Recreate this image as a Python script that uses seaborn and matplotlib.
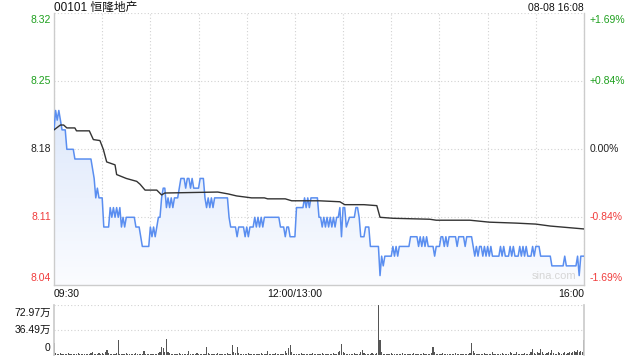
import numpy as np
import pandas as pd
import matplotlib
matplotlib.use("Agg")
import matplotlib.pyplot as plt
import seaborn as sns
from matplotlib.patches import Polygon
from matplotlib.colors import LinearSegmentedColormap

# ---------------- data ----------------
title = "00101 恒隆地产"
stamp = "08-08 16:08"
price_ticks = [8.04, 8.11, 8.18, 8.25, 8.32]
price_labels = ["8.04", "8.11", "8.18", "8.25", "8.32"]
pct_labels = ["-1.69%", "-0.84%", "0.00%", "+0.84%", "+1.69%"]
vol_ticks = [0, 36.49, 72.97]
vol_labels = ["0", "36.49万", "72.97万"]
time_labels = ["09:30", "12:00/13:00", "16:00"]

# minutes since 09:30 (lunch break removed) and price
price_min = [0, 1, 2, 3, 4, 5, 7, 8, 12, 13, 23, 25, 26, 27, 28, 30, 31, 34, 35, 36,
             37, 38, 39, 40, 41, 42, 43, 44, 45, 50, 51, 53, 54, 55, 59, 60, 61, 62, 63, 64,
             65, 66, 67, 68, 69, 70, 71, 72, 73, 74, 75, 77, 78, 79, 81, 82, 83, 84, 85, 86,
             87, 90, 91, 93, 94, 95, 96, 97, 98, 99, 100, 108, 109, 110, 113, 114, 115, 118, 119, 120,
             121, 122, 124, 125, 126, 127, 128, 129, 130, 131, 134, 140, 141, 143, 144, 145, 146, 147, 150, 151,
             155, 156, 157, 158, 159, 160, 164, 165, 166, 167, 168, 169, 170, 171, 172, 173, 174, 175, 176, 177,
             178, 179, 180, 181, 182, 184, 187, 188, 189, 190, 191, 193, 194, 196, 197, 202, 203, 204, 205, 206,
             210, 211, 212, 213, 214, 215, 221, 222, 226, 227, 228, 229, 230, 231, 232, 233, 236, 237, 238, 240,
             241, 242, 243, 244, 245, 246, 250, 251, 252, 255, 256, 257, 260, 262, 263, 264, 265, 266, 267, 268,
             269, 270, 271, 272, 273, 277, 278, 279, 280, 281, 283, 284, 285, 286, 287, 289, 290, 291, 292, 293,
             294, 295, 297, 298, 299, 300, 302, 303, 309, 310, 317, 318, 319, 325, 326, 327, 328, 330]
price_val = [8.20, 8.22, 8.21, 8.22, 8.21, 8.20, 8.20, 8.18, 8.18, 8.17, 8.17, 8.15, 8.13, 8.14, 8.13, 8.13, 8.10, 8.10, 8.12, 8.11,
             8.12, 8.11, 8.12, 8.11, 8.12, 8.10, 8.11, 8.10, 8.11, 8.11, 8.10, 8.10, 8.09, 8.08, 8.08, 8.10, 8.09, 8.10, 8.09, 8.10,
             8.11, 8.11, 8.13, 8.14, 8.14, 8.12, 8.13, 8.12, 8.13, 8.12, 8.13, 8.13, 8.14, 8.15, 8.15, 8.14, 8.15, 8.15, 8.14, 8.15,
             8.14, 8.14, 8.15, 8.15, 8.13, 8.12, 8.13, 8.12, 8.13, 8.12, 8.13, 8.13, 8.11, 8.10, 8.10, 8.09, 8.10, 8.10, 8.09, 8.10,
             8.09, 8.10, 8.10, 8.11, 8.10, 8.11, 8.10, 8.11, 8.10, 8.11, 8.11, 8.11, 8.10, 8.10, 8.09, 8.10, 8.10, 8.09, 8.09, 8.12,
             8.12, 8.13, 8.12, 8.13, 8.12, 8.13, 8.13, 8.11, 8.11, 8.10, 8.11, 8.10, 8.11, 8.10, 8.11, 8.10, 8.11, 8.10, 8.11, 8.11,
             8.12, 8.09, 8.12, 8.12, 8.10, 8.11, 8.11, 8.12, 8.12, 8.11, 8.09, 8.09, 8.10, 8.10, 8.08, 8.08, 8.05, 8.07, 8.06, 8.07,
             8.07, 8.08, 8.07, 8.08, 8.07, 8.08, 8.08, 8.09, 8.09, 8.08, 8.09, 8.08, 8.09, 8.08, 8.09, 8.08, 8.08, 8.07, 8.08, 8.08,
             8.09, 8.09, 8.08, 8.09, 8.08, 8.09, 8.09, 8.08, 8.09, 8.09, 8.08, 8.09, 8.09, 8.07, 8.08, 8.07, 8.08, 8.08, 8.07, 8.08,
             8.07, 8.08, 8.07, 8.08, 8.07, 8.07, 8.08, 8.07, 8.08, 8.07, 8.07, 8.08, 8.07, 8.08, 8.07, 8.07, 8.08, 8.07, 8.08, 8.07,
             8.08, 8.07, 8.07, 8.08, 8.07, 8.08, 8.08, 8.07, 8.07, 8.06, 8.06, 8.07, 8.06, 8.06, 8.07, 8.05, 8.07, 8.07]

avg_min = [0, 4, 6, 8, 13, 14, 22, 24.5, 28.6, 30.7, 32.8, 38, 39, 45, 51.5, 53.6, 56.7, 64, 67, 69,
           102, 108.6, 113.7, 123, 131, 133, 144, 148, 165, 178, 181, 193, 201, 203, 211, 234, 238, 259, 271, 288,
           300, 309, 330]
avg_val = [8.200, 8.205, 8.205, 8.202, 8.202, 8.199, 8.199, 8.190, 8.189, 8.180, 8.167, 8.164, 8.154, 8.150, 8.147, 8.144, 8.138, 8.138, 8.133, 8.135,
           8.136, 8.134, 8.132, 8.130, 8.130, 8.129, 8.129, 8.127, 8.127, 8.126, 8.123, 8.123, 8.122, 8.110, 8.109, 8.108, 8.107, 8.107, 8.105, 8.104,
           8.103, 8.101, 8.098]

# volume per minute, in 万 shares
volume = [17, 3, 2, 2, 3, 2, 1, 2, 2, 3, 2, 1, 2, 2, 1, 3, 2, 2, 1, 2,
          2, 1, 2, 3, 5, 2, 2, 1, 3, 2, 3, 2, 4, 7, 3, 2, 2, 1, 2, 3,
          22, 2, 2, 1, 2, 3, 2, 2, 1, 2, 2, 3, 2, 1, 2, 2, 6, 2, 2, 1,
          2, 2, 1, 2, 2, 3, 4, 12, 10, 4, 23, 5, 3, 2, 2, 1, 2, 2, 3, 2,
          2, 1, 2, 2, 6, 2, 2, 1, 2, 3, 2, 2, 1, 2, 2, 12, 3, 2, 2, 1,
          2, 2, 3, 1, 2, 2, 2, 1, 3, 2, 2, 14, 4, 3, 12, 3, 2, 2, 1, 2,
          2, 3, 2, 1, 2, 2, 1, 2, 2, 3, 2, 1, 2, 6, 2, 2, 1, 2, 3, 2,
          2, 1, 2, 2, 6, 3, 10, 14, 4, 2, 2, 1, 2, 2, 3, 2, 1, 2, 2, 1,
          2, 3, 2, 2, 1, 2, 2, 3, 2, 1, 2, 2, 2, 1, 3, 2, 2, 4, 6, 16,
          5, 3, 2, 2, 1, 2, 2, 3, 2, 1, 2, 4, 7, 3, 2, 2, 1, 2, 3, 2,
          2, 3, 72.97, 22, 4, 2, 2, 1, 2, 2, 3, 2, 1, 2, 2, 2, 1, 3, 2, 2,
          2, 1, 2, 2, 3, 2, 1, 2, 2, 2, 3, 2, 1, 2, 2, 3, 11, 4, 2, 2,
          1, 2, 3, 2, 2, 1, 2, 2, 2, 1, 3, 2, 2, 1, 2, 2, 2, 1, 2, 3,
          17, 6, 3, 2, 2, 1, 2, 2, 3, 2, 1, 2, 2, 5, 2, 2, 1, 2, 2, 3,
          2, 2, 1, 2, 5, 3, 2, 2, 4, 2, 1, 2, 2, 3, 2, 1, 2, 4, 9, 3,
          2, 4, 3, 9, 4, 2, 2, 3, 5, 3, 8, 3, 2, 2, 4, 3, 2, 3, 4, 2,
          3, 4, 3, 5, 6, 4, 7, 5, 6, 4, 22]

# ---------------- style ----------------
sns.set_theme(style="white")
plt.rcParams["font.family"] = ["Liberation Sans", "Noto Sans CJK SC", "DejaVu Sans"]

GREEN = "#1ea01e"
RED = "#f03c3c"
DARK = "#222222"
GRID = "#d2d2d2"
BLUE = "#5a8ef0"

fig = plt.figure(figsize=(6.4, 3.6), dpi=100)
AX_H = 272
ax = fig.add_axes([54 / 640, 1 - 285.3 / 360, 530 / 640, AX_H / 360])
axv = fig.add_axes([54 / 640, 1 - 355 / 360, 530 / 640, 50 / 360])

XMAX = 330
ax.set_xlim(0, XMAX)
ax.set_ylim(price_ticks[0], price_ticks[-1])

pdf = pd.DataFrame({"t": price_min, "p": price_val})
adf = pd.DataFrame({"t": avg_min, "p": avg_val})

# gradient fill under price line
verts = list(zip(price_min, price_val)) + [(price_min[-1], price_ticks[0]), (price_min[0], price_ticks[0])]
poly = Polygon(verts, closed=True, facecolor="none", edgecolor="none")
ax.add_patch(poly)
cmap = LinearSegmentedColormap.from_list("g", ["#fbfcff", "#dde8fb"])
grad = np.linspace(0, 1, 256).reshape(-1, 1)
img = ax.imshow(grad, extent=[0, XMAX, price_ticks[0], max(price_val)], origin="lower",
                aspect="auto", cmap=cmap, zorder=1)
img.set_clip_path(poly)

sns.lineplot(data=pdf, x="t", y="p", ax=ax, color=BLUE, linewidth=1.1, zorder=3, estimator=None, sort=False)
sns.lineplot(data=adf, x="t", y="p", ax=ax, color="#333333", linewidth=1.0, zorder=4, estimator=None, sort=False)

ax.set_xticks(np.arange(0, XMAX + 1, 30))
ax.set_yticks(price_ticks)
ax.grid(True, linestyle=(0, (1, 2)), color=GRID, linewidth=0.8)
ax.tick_params(left=False, bottom=False, labelleft=False, labelbottom=False)
ax.set_xlabel("")
ax.set_ylabel("")
for s in ["left", "right", "bottom"]:
    ax.spines[s].set_color("#cccccc")
    ax.spines[s].set_linewidth(1)
ax.spines["top"].set_visible(False)
ax.set_axisbelow(True)

# price labels (outer ones kept inside the plot height)
span = price_ticks[-1] - price_ticks[0]
px = span / AX_H
label_pos = [price_ticks[0] + 7 * px, price_ticks[1], price_ticks[2], price_ticks[3], price_ticks[4] - 6.7 * px]
colors = [RED, RED, DARK, GREEN, GREEN]
for v, lab, pl, c in zip(label_pos, price_labels, pct_labels, colors):
    ax.text(-0.006, v, lab, transform=ax.get_yaxis_transform(), ha="right", va="center", color=c, fontsize=7.5)
    ax.text(1.011, v, pl, transform=ax.get_yaxis_transform(), ha="left", va="center", color=c, fontsize=7.5)

ax.text(0, 1 + 5 / AX_H, title, transform=ax.transAxes, ha="left", va="center", fontsize=8.5, color="#111111")
ax.text(1, 1 + 5 / AX_H, stamp, transform=ax.transAxes, ha="right", va="center", fontsize=7.5, color="#111111")
ax.text(0.985, 0.015, "sina.com", transform=ax.transAxes, ha="right", va="bottom", fontsize=8, color="#d6d6d6")

# time labels
tpos = [0, 150, 330]
has = ["left", "center", "right"]
for tp, tl, ha in zip(tpos, time_labels, has):
    ax.text(tp, -0.012, tl, transform=ax.get_xaxis_transform(), ha=ha, va="top", fontsize=7.5, color="#111111")

# volume
vdf = pd.DataFrame({"t": np.arange(len(volume)), "v": volume})
axv.bar(vdf["t"], vdf["v"], width=0.7, color="#555555", linewidth=0)
axv.set_xlim(0, XMAX)
axv.set_ylim(0, vol_ticks[-1])
axv.set_yticks(vol_ticks)
axv.set_xticks([])
axv.grid(True, axis="y", linestyle=(0, (1, 2)), color=GRID, linewidth=0.8)
axv.tick_params(left=False, bottom=False, labelleft=False, labelbottom=False)
for s in ["left", "right", "bottom", "top"]:
    axv.spines[s].set_color("#cccccc")
axv.spines["top"].set_visible(False)
axv.spines["bottom"].set_visible(False)
vpos = [0.14, 0.5, 0.84]
for yp, lab in zip(vpos, vol_labels):
    axv.text(-0.006, yp, lab, transform=axv.transAxes, ha="right", va="center", fontsize=7.5, color="#111111")

fig.savefig("out.png", dpi=100)
